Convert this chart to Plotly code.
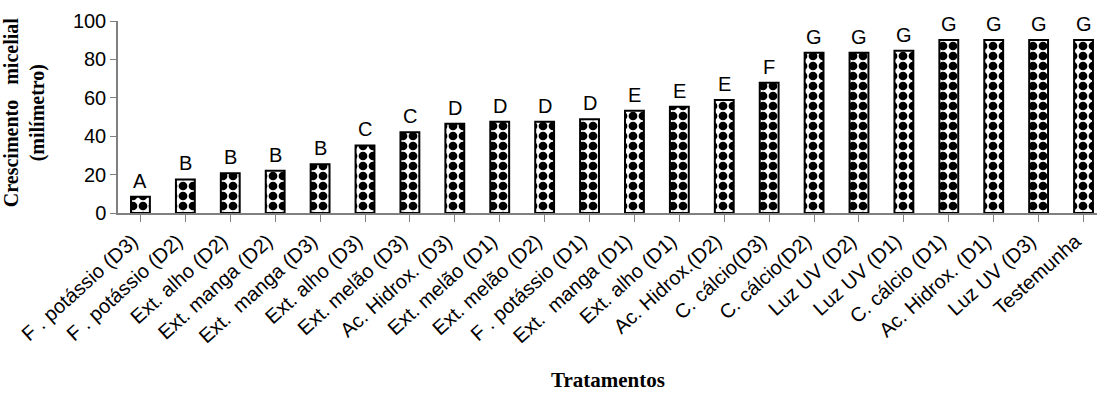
import plotly.graph_objects as go

categories = [
    "F . potássio (D3)", "F . potássio (D2)", "Ext. alho (D2)", "Ext. manga (D2)",
    "Ext.  manga (D3)", "Ext. alho (D3)", "Ext. melão (D3)", "Ac. Hidrox. (D3)",
    "Ext. melão (D1)", "Ext. melão (D2)", "F . potássio (D1)", "Ext.  manga (D1)",
    "Ext. alho (D1)", "Ac. Hidrox.(D2)", "C. cálcio(D3)", "C. cálcio(D2)",
    "Luz UV (D2)", "Luz UV (D1)", "C. cálcio (D1)", "Ac. Hidrox. (D1)",
    "Luz UV (D3)", "Testemunha",
]
values = [8.5, 17.5, 20.7, 22.0, 25.4, 35.2, 42.0, 46.5, 47.5, 47.5, 48.8,
          53.3, 55.4, 58.9, 67.9, 83.5, 83.5, 84.5, 90.1, 90.1, 90.1, 90.1]
letters = ["A", "B", "B", "B", "B", "C", "C", "D", "D", "D", "D",
           "E", "E", "E", "F", "G", "G", "G", "G", "G", "G", "G"]
y_ticks = [0, 20, 40, 60, 80, 100]

idx = list(range(len(categories)))

fig = go.Figure()
fig.add_trace(go.Bar(
    x=idx, y=values, width=0.42,
    marker=dict(
        color="white",
        line=dict(color="black", width=2),
        pattern=dict(shape=".", fgcolor="black", bgcolor="white", fgopacity=1,
                     size=10, solidity=0.6),
    ),
    showlegend=False, hoverinfo="skip",
))

for i, (v, t) in enumerate(zip(values, letters)):
    fig.add_annotation(x=i, y=v, text=t, showarrow=False, yanchor="bottom", yshift=3,
                       font=dict(family="Liberation Sans", size=20, color="black"))

fig.add_annotation(xref="paper", yref="paper", x=-0.096, y=0.52,
                   text="<b>Crescimento\u00a0\u00a0\u00a0micelial</b><br><b>(milímetro)</b>",
                   textangle=-90, showarrow=False, xanchor="center", yanchor="middle",
                   font=dict(family="Liberation Serif", size=20, color="black"))
fig.add_annotation(xref="paper", yref="paper", x=0.5, y=-0.87,
                   text="<b>Tratamentos</b>", showarrow=False,
                   xanchor="center", yanchor="middle",
                   font=dict(family="Liberation Serif", size=21, color="black"))

fig.update_layout(
    width=1097, height=393,
    margin=dict(l=118, r=0, t=21, b=180, autoexpand=False),
    plot_bgcolor="white", paper_bgcolor="white",
)
fig.update_xaxes(
    range=[-0.5, 21.3], tickmode="array", tickvals=idx, ticktext=categories,
    tickangle=-42, tickson="boundaries", ticks="outside", ticklen=7, tickcolor="#808080",
    showline=True, linecolor="#808080", linewidth=1.5, showgrid=False, zeroline=False,
    automargin=False, ticklabelshift=-8,
    tickfont=dict(family="Liberation Sans", size=20, color="black"),
)
fig.update_yaxes(
    range=[0, 100], tickmode="array", tickvals=y_ticks,
    ticks="outside", ticklen=6, tickcolor="#808080",
    showline=True, linecolor="#808080", linewidth=1.5, showgrid=False, zeroline=False,
    automargin=False,
    tickfont=dict(family="Liberation Sans", size=20, color="black"),
)

fig.write_html("out.html", config={"displayModeBar": False},
               post_script="document.body.style.margin='0px';")
